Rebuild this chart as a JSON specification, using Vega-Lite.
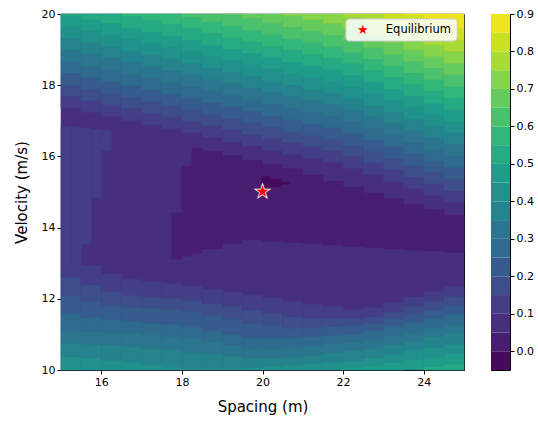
{
  "$schema": "https://vega.github.io/schema/vega-lite/v6.json",
  "background": "white",
  "padding": {"left": 13, "top": 7, "right": 5, "bottom": 5},
  "config": {
    "view": {"stroke": "black", "strokeWidth": 1},
    "axis": {"labelFont": "DejaVu Sans", "titleFont": "DejaVu Sans", "labelFontSize": 11, "titleFontSize": 15, "titleFontWeight": "normal", "labelColor": "black", "titleColor": "black", "tickColor": "black", "domainColor": "black", "tickSize": 4, "grid": false, "labelPadding": 2, "titlePadding": 12}
  },
  "datasets": {
    "base": [{"c":2,"x":15,"x2":25,"lo":10,"hi":20}],
    "cells": [
      {"c":3,"x":15,"x2":15.5,"lo":17.36,"hi":17.69},{"c":4,"x":15,"x2":15.5,"lo":17.69,"hi":18.01},{"c":5,"x":15,"x2":15.5,"lo":18.01,"hi":18.34},{"c":6,"x":15,"x2":15.5,"lo":18.34,"hi":18.66},{"c":7,"x":15,"x2":15.5,"lo":18.66,"hi":18.99},{"c":8,"x":15,"x2":15.5,"lo":18.99,"hi":19.31},{"c":9,"x":15,"x2":15.5,"lo":19.31,"hi":19.64},{"c":10,"x":15,"x2":15.5,"lo":19.64,"hi":19.96},{"c":11,"x":15,"x2":15.5,"lo":19.96,"hi":20.29},
      {"c":3,"x":15.5,"x2":16,"lo":17.24,"hi":17.57},{"c":4,"x":15.5,"x2":16,"lo":17.57,"hi":17.89},{"c":5,"x":15.5,"x2":16,"lo":17.89,"hi":18.22},{"c":6,"x":15.5,"x2":16,"lo":18.22,"hi":18.54},{"c":7,"x":15.5,"x2":16,"lo":18.54,"hi":18.87},{"c":8,"x":15.5,"x2":16,"lo":18.87,"hi":19.19},{"c":9,"x":15.5,"x2":16,"lo":19.19,"hi":19.52},{"c":10,"x":15.5,"x2":16,"lo":19.52,"hi":19.84},{"c":11,"x":15.5,"x2":16,"lo":19.84,"hi":20.17},
      {"c":3,"x":16,"x2":16.5,"lo":17.13,"hi":17.46},{"c":4,"x":16,"x2":16.5,"lo":17.46,"hi":17.78},{"c":5,"x":16,"x2":16.5,"lo":17.78,"hi":18.11},{"c":6,"x":16,"x2":16.5,"lo":18.11,"hi":18.43},{"c":7,"x":16,"x2":16.5,"lo":18.43,"hi":18.76},{"c":8,"x":16,"x2":16.5,"lo":18.76,"hi":19.08},{"c":9,"x":16,"x2":16.5,"lo":19.08,"hi":19.41},{"c":10,"x":16,"x2":16.5,"lo":19.41,"hi":19.73},{"c":11,"x":16,"x2":16.5,"lo":19.73,"hi":20.06},
      {"c":3,"x":16.5,"x2":17,"lo":17.01,"hi":17.34},{"c":4,"x":16.5,"x2":17,"lo":17.34,"hi":17.66},{"c":5,"x":16.5,"x2":17,"lo":17.66,"hi":17.99},{"c":6,"x":16.5,"x2":17,"lo":17.99,"hi":18.31},{"c":7,"x":16.5,"x2":17,"lo":18.31,"hi":18.64},{"c":8,"x":16.5,"x2":17,"lo":18.64,"hi":18.96},{"c":9,"x":16.5,"x2":17,"lo":18.96,"hi":19.29},{"c":10,"x":16.5,"x2":17,"lo":19.29,"hi":19.61},{"c":11,"x":16.5,"x2":17,"lo":19.61,"hi":19.94},{"c":12,"x":16.5,"x2":17,"lo":19.94,"hi":20.26},
      {"c":3,"x":17,"x2":17.5,"lo":16.89,"hi":17.22},{"c":4,"x":17,"x2":17.5,"lo":17.22,"hi":17.54},{"c":5,"x":17,"x2":17.5,"lo":17.54,"hi":17.87},{"c":6,"x":17,"x2":17.5,"lo":17.87,"hi":18.19},{"c":7,"x":17,"x2":17.5,"lo":18.19,"hi":18.52},{"c":8,"x":17,"x2":17.5,"lo":18.52,"hi":18.84},{"c":9,"x":17,"x2":17.5,"lo":18.84,"hi":19.17},{"c":10,"x":17,"x2":17.5,"lo":19.17,"hi":19.49},{"c":11,"x":17,"x2":17.5,"lo":19.49,"hi":19.82},{"c":12,"x":17,"x2":17.5,"lo":19.82,"hi":20.14},
      {"c":3,"x":17.5,"x2":18,"lo":16.78,"hi":17.11},{"c":4,"x":17.5,"x2":18,"lo":17.11,"hi":17.43},{"c":5,"x":17.5,"x2":18,"lo":17.43,"hi":17.76},{"c":6,"x":17.5,"x2":18,"lo":17.76,"hi":18.08},{"c":7,"x":17.5,"x2":18,"lo":18.08,"hi":18.41},{"c":8,"x":17.5,"x2":18,"lo":18.41,"hi":18.73},{"c":9,"x":17.5,"x2":18,"lo":18.73,"hi":19.06},{"c":10,"x":17.5,"x2":18,"lo":19.06,"hi":19.38},{"c":11,"x":17.5,"x2":18,"lo":19.38,"hi":19.71},{"c":12,"x":17.5,"x2":18,"lo":19.71,"hi":20.03},
      {"c":3,"x":18,"x2":18.5,"lo":16.66,"hi":16.99},{"c":4,"x":18,"x2":18.5,"lo":16.99,"hi":17.31},{"c":5,"x":18,"x2":18.5,"lo":17.31,"hi":17.64},{"c":6,"x":18,"x2":18.5,"lo":17.64,"hi":17.96},{"c":7,"x":18,"x2":18.5,"lo":17.96,"hi":18.29},{"c":8,"x":18,"x2":18.5,"lo":18.29,"hi":18.61},{"c":9,"x":18,"x2":18.5,"lo":18.61,"hi":18.94},{"c":10,"x":18,"x2":18.5,"lo":18.94,"hi":19.26},{"c":11,"x":18,"x2":18.5,"lo":19.26,"hi":19.59},{"c":12,"x":18,"x2":18.5,"lo":19.59,"hi":19.91},{"c":13,"x":18,"x2":18.5,"lo":19.91,"hi":20.24},
      {"c":3,"x":18.5,"x2":19,"lo":16.53,"hi":16.86},{"c":4,"x":18.5,"x2":19,"lo":16.86,"hi":17.18},{"c":5,"x":18.5,"x2":19,"lo":17.18,"hi":17.51},{"c":6,"x":18.5,"x2":19,"lo":17.51,"hi":17.83},{"c":7,"x":18.5,"x2":19,"lo":17.83,"hi":18.16},{"c":8,"x":18.5,"x2":19,"lo":18.16,"hi":18.48},{"c":9,"x":18.5,"x2":19,"lo":18.48,"hi":18.81},{"c":10,"x":18.5,"x2":19,"lo":18.81,"hi":19.13},{"c":11,"x":18.5,"x2":19,"lo":19.13,"hi":19.46},{"c":12,"x":18.5,"x2":19,"lo":19.46,"hi":19.78},{"c":13,"x":18.5,"x2":19,"lo":19.78,"hi":20.11},
      {"c":3,"x":19,"x2":19.5,"lo":16.41,"hi":16.74},{"c":4,"x":19,"x2":19.5,"lo":16.74,"hi":17.06},{"c":5,"x":19,"x2":19.5,"lo":17.06,"hi":17.39},{"c":6,"x":19,"x2":19.5,"lo":17.39,"hi":17.71},{"c":7,"x":19,"x2":19.5,"lo":17.71,"hi":18.04},{"c":8,"x":19,"x2":19.5,"lo":18.04,"hi":18.36},{"c":9,"x":19,"x2":19.5,"lo":18.36,"hi":18.69},{"c":10,"x":19,"x2":19.5,"lo":18.69,"hi":19.01},{"c":11,"x":19,"x2":19.5,"lo":19.01,"hi":19.34},{"c":12,"x":19,"x2":19.5,"lo":19.34,"hi":19.66},{"c":13,"x":19,"x2":19.5,"lo":19.66,"hi":19.99},{"c":14,"x":19,"x2":19.5,"lo":19.99,"hi":20.31},
      {"c":3,"x":19.5,"x2":20,"lo":16.29,"hi":16.62},{"c":4,"x":19.5,"x2":20,"lo":16.62,"hi":16.94},{"c":5,"x":19.5,"x2":20,"lo":16.94,"hi":17.27},{"c":6,"x":19.5,"x2":20,"lo":17.27,"hi":17.59},{"c":7,"x":19.5,"x2":20,"lo":17.59,"hi":17.92},{"c":8,"x":19.5,"x2":20,"lo":17.92,"hi":18.24},{"c":9,"x":19.5,"x2":20,"lo":18.24,"hi":18.57},{"c":10,"x":19.5,"x2":20,"lo":18.57,"hi":18.89},{"c":11,"x":19.5,"x2":20,"lo":18.89,"hi":19.22},{"c":12,"x":19.5,"x2":20,"lo":19.22,"hi":19.54},{"c":13,"x":19.5,"x2":20,"lo":19.54,"hi":19.87},{"c":14,"x":19.5,"x2":20,"lo":19.87,"hi":20.19},
      {"c":3,"x":20,"x2":20.5,"lo":16.17,"hi":16.5},{"c":4,"x":20,"x2":20.5,"lo":16.5,"hi":16.82},{"c":5,"x":20,"x2":20.5,"lo":16.82,"hi":17.15},{"c":6,"x":20,"x2":20.5,"lo":17.15,"hi":17.47},{"c":7,"x":20,"x2":20.5,"lo":17.47,"hi":17.8},{"c":8,"x":20,"x2":20.5,"lo":17.8,"hi":18.12},{"c":9,"x":20,"x2":20.5,"lo":18.12,"hi":18.45},{"c":10,"x":20,"x2":20.5,"lo":18.45,"hi":18.77},{"c":11,"x":20,"x2":20.5,"lo":18.77,"hi":19.1},{"c":12,"x":20,"x2":20.5,"lo":19.1,"hi":19.42},{"c":13,"x":20,"x2":20.5,"lo":19.42,"hi":19.75},{"c":14,"x":20,"x2":20.5,"lo":19.75,"hi":20.07},
      {"c":3,"x":20.5,"x2":21,"lo":16.05,"hi":16.38},{"c":4,"x":20.5,"x2":21,"lo":16.38,"hi":16.7},{"c":5,"x":20.5,"x2":21,"lo":16.7,"hi":17.03},{"c":6,"x":20.5,"x2":21,"lo":17.03,"hi":17.35},{"c":7,"x":20.5,"x2":21,"lo":17.35,"hi":17.68},{"c":8,"x":20.5,"x2":21,"lo":17.68,"hi":18},{"c":9,"x":20.5,"x2":21,"lo":18,"hi":18.33},{"c":10,"x":20.5,"x2":21,"lo":18.33,"hi":18.65},{"c":11,"x":20.5,"x2":21,"lo":18.65,"hi":18.98},{"c":12,"x":20.5,"x2":21,"lo":18.98,"hi":19.3},{"c":13,"x":20.5,"x2":21,"lo":19.3,"hi":19.63},{"c":14,"x":20.5,"x2":21,"lo":19.63,"hi":19.95},{"c":15,"x":20.5,"x2":21,"lo":19.95,"hi":20.28},
      {"c":3,"x":21,"x2":21.5,"lo":15.94,"hi":16.27},{"c":4,"x":21,"x2":21.5,"lo":16.27,"hi":16.59},{"c":5,"x":21,"x2":21.5,"lo":16.59,"hi":16.92},{"c":6,"x":21,"x2":21.5,"lo":16.92,"hi":17.24},{"c":7,"x":21,"x2":21.5,"lo":17.24,"hi":17.57},{"c":8,"x":21,"x2":21.5,"lo":17.57,"hi":17.89},{"c":9,"x":21,"x2":21.5,"lo":17.89,"hi":18.22},{"c":10,"x":21,"x2":21.5,"lo":18.22,"hi":18.54},{"c":11,"x":21,"x2":21.5,"lo":18.54,"hi":18.87},{"c":12,"x":21,"x2":21.5,"lo":18.87,"hi":19.19},{"c":13,"x":21,"x2":21.5,"lo":19.19,"hi":19.52},{"c":14,"x":21,"x2":21.5,"lo":19.52,"hi":19.84},{"c":15,"x":21,"x2":21.5,"lo":19.84,"hi":20.17},
      {"c":3,"x":21.5,"x2":22,"lo":15.83,"hi":16.16},{"c":4,"x":21.5,"x2":22,"lo":16.16,"hi":16.48},{"c":5,"x":21.5,"x2":22,"lo":16.48,"hi":16.81},{"c":6,"x":21.5,"x2":22,"lo":16.81,"hi":17.13},{"c":7,"x":21.5,"x2":22,"lo":17.13,"hi":17.46},{"c":8,"x":21.5,"x2":22,"lo":17.46,"hi":17.78},{"c":9,"x":21.5,"x2":22,"lo":17.78,"hi":18.11},{"c":10,"x":21.5,"x2":22,"lo":18.11,"hi":18.43},{"c":11,"x":21.5,"x2":22,"lo":18.43,"hi":18.76},{"c":12,"x":21.5,"x2":22,"lo":18.76,"hi":19.08},{"c":13,"x":21.5,"x2":22,"lo":19.08,"hi":19.41},{"c":14,"x":21.5,"x2":22,"lo":19.41,"hi":19.73},{"c":15,"x":21.5,"x2":22,"lo":19.73,"hi":20.06},
      {"c":3,"x":22,"x2":22.5,"lo":15.67,"hi":16},{"c":4,"x":22,"x2":22.5,"lo":16,"hi":16.32},{"c":5,"x":22,"x2":22.5,"lo":16.32,"hi":16.65},{"c":6,"x":22,"x2":22.5,"lo":16.65,"hi":16.97},{"c":7,"x":22,"x2":22.5,"lo":16.97,"hi":17.3},{"c":8,"x":22,"x2":22.5,"lo":17.3,"hi":17.62},{"c":9,"x":22,"x2":22.5,"lo":17.62,"hi":17.95},{"c":10,"x":22,"x2":22.5,"lo":17.95,"hi":18.27},{"c":11,"x":22,"x2":22.5,"lo":18.27,"hi":18.6},{"c":12,"x":22,"x2":22.5,"lo":18.6,"hi":18.92},{"c":13,"x":22,"x2":22.5,"lo":18.92,"hi":19.25},{"c":14,"x":22,"x2":22.5,"lo":19.25,"hi":19.57},{"c":15,"x":22,"x2":22.5,"lo":19.57,"hi":19.9},{"c":16,"x":22,"x2":22.5,"lo":19.9,"hi":20.22},
      {"c":3,"x":22.5,"x2":23,"lo":15.48,"hi":15.81},{"c":4,"x":22.5,"x2":23,"lo":15.81,"hi":16.13},{"c":5,"x":22.5,"x2":23,"lo":16.13,"hi":16.46},{"c":6,"x":22.5,"x2":23,"lo":16.46,"hi":16.78},{"c":7,"x":22.5,"x2":23,"lo":16.78,"hi":17.11},{"c":8,"x":22.5,"x2":23,"lo":17.11,"hi":17.43},{"c":9,"x":22.5,"x2":23,"lo":17.43,"hi":17.76},{"c":10,"x":22.5,"x2":23,"lo":17.76,"hi":18.08},{"c":11,"x":22.5,"x2":23,"lo":18.08,"hi":18.41},{"c":12,"x":22.5,"x2":23,"lo":18.41,"hi":18.73},{"c":13,"x":22.5,"x2":23,"lo":18.73,"hi":19.06},{"c":14,"x":22.5,"x2":23,"lo":19.06,"hi":19.38},{"c":15,"x":22.5,"x2":23,"lo":19.38,"hi":19.71},{"c":16,"x":22.5,"x2":23,"lo":19.71,"hi":20.03},
      {"c":3,"x":23,"x2":23.5,"lo":15.29,"hi":15.62},{"c":4,"x":23,"x2":23.5,"lo":15.62,"hi":15.94},{"c":5,"x":23,"x2":23.5,"lo":15.94,"hi":16.27},{"c":6,"x":23,"x2":23.5,"lo":16.27,"hi":16.59},{"c":7,"x":23,"x2":23.5,"lo":16.59,"hi":16.92},{"c":8,"x":23,"x2":23.5,"lo":16.92,"hi":17.24},{"c":9,"x":23,"x2":23.5,"lo":17.24,"hi":17.57},{"c":10,"x":23,"x2":23.5,"lo":17.57,"hi":17.89},{"c":11,"x":23,"x2":23.5,"lo":17.89,"hi":18.22},{"c":12,"x":23,"x2":23.5,"lo":18.22,"hi":18.54},{"c":13,"x":23,"x2":23.5,"lo":18.54,"hi":18.87},{"c":14,"x":23,"x2":23.5,"lo":18.87,"hi":19.19},{"c":15,"x":23,"x2":23.5,"lo":19.19,"hi":19.52},{"c":16,"x":23,"x2":23.5,"lo":19.52,"hi":19.84},{"c":17,"x":23,"x2":23.5,"lo":19.84,"hi":20.17},
      {"c":3,"x":23.5,"x2":24,"lo":15.09,"hi":15.42},{"c":4,"x":23.5,"x2":24,"lo":15.42,"hi":15.74},{"c":5,"x":23.5,"x2":24,"lo":15.74,"hi":16.07},{"c":6,"x":23.5,"x2":24,"lo":16.07,"hi":16.39},{"c":7,"x":23.5,"x2":24,"lo":16.39,"hi":16.72},{"c":8,"x":23.5,"x2":24,"lo":16.72,"hi":17.04},{"c":9,"x":23.5,"x2":24,"lo":17.04,"hi":17.37},{"c":10,"x":23.5,"x2":24,"lo":17.37,"hi":17.69},{"c":11,"x":23.5,"x2":24,"lo":17.69,"hi":18.02},{"c":12,"x":23.5,"x2":24,"lo":18.02,"hi":18.34},{"c":13,"x":23.5,"x2":24,"lo":18.34,"hi":18.67},{"c":14,"x":23.5,"x2":24,"lo":18.67,"hi":18.99},{"c":15,"x":23.5,"x2":24,"lo":18.99,"hi":19.32},{"c":16,"x":23.5,"x2":24,"lo":19.32,"hi":19.64},{"c":17,"x":23.5,"x2":24,"lo":19.64,"hi":19.97},{"c":18,"x":23.5,"x2":24,"lo":19.97,"hi":20.29},
      {"c":3,"x":24,"x2":24.5,"lo":14.9,"hi":15.23},{"c":4,"x":24,"x2":24.5,"lo":15.23,"hi":15.55},{"c":5,"x":24,"x2":24.5,"lo":15.55,"hi":15.88},{"c":6,"x":24,"x2":24.5,"lo":15.88,"hi":16.2},{"c":7,"x":24,"x2":24.5,"lo":16.2,"hi":16.53},{"c":8,"x":24,"x2":24.5,"lo":16.53,"hi":16.85},{"c":9,"x":24,"x2":24.5,"lo":16.85,"hi":17.18},{"c":10,"x":24,"x2":24.5,"lo":17.18,"hi":17.5},{"c":11,"x":24,"x2":24.5,"lo":17.5,"hi":17.83},{"c":12,"x":24,"x2":24.5,"lo":17.83,"hi":18.15},{"c":13,"x":24,"x2":24.5,"lo":18.15,"hi":18.48},{"c":14,"x":24,"x2":24.5,"lo":18.48,"hi":18.8},{"c":15,"x":24,"x2":24.5,"lo":18.8,"hi":19.13},{"c":16,"x":24,"x2":24.5,"lo":19.13,"hi":19.45},{"c":17,"x":24,"x2":24.5,"lo":19.45,"hi":19.78},{"c":18,"x":24,"x2":24.5,"lo":19.78,"hi":20.1},
      {"c":3,"x":24.5,"x2":25,"lo":14.71,"hi":15.04},{"c":4,"x":24.5,"x2":25,"lo":15.04,"hi":15.36},{"c":5,"x":24.5,"x2":25,"lo":15.36,"hi":15.69},{"c":6,"x":24.5,"x2":25,"lo":15.69,"hi":16.01},{"c":7,"x":24.5,"x2":25,"lo":16.01,"hi":16.34},{"c":8,"x":24.5,"x2":25,"lo":16.34,"hi":16.66},{"c":9,"x":24.5,"x2":25,"lo":16.66,"hi":16.99},{"c":10,"x":24.5,"x2":25,"lo":16.99,"hi":17.31},{"c":11,"x":24.5,"x2":25,"lo":17.31,"hi":17.64},{"c":12,"x":24.5,"x2":25,"lo":17.64,"hi":17.96},{"c":13,"x":24.5,"x2":25,"lo":17.96,"hi":18.29},{"c":14,"x":24.5,"x2":25,"lo":18.29,"hi":18.61},{"c":15,"x":24.5,"x2":25,"lo":18.61,"hi":18.94},{"c":16,"x":24.5,"x2":25,"lo":18.94,"hi":19.26},{"c":17,"x":24.5,"x2":25,"lo":19.26,"hi":19.59},{"c":18,"x":24.5,"x2":25,"lo":19.59,"hi":20},
      {"c":3,"x":15,"x2":15.5,"lo":12.6,"hi":13.03},{"c":4,"x":15,"x2":15.5,"lo":12.08,"hi":12.6},{"c":5,"x":15,"x2":15.5,"lo":11.57,"hi":12.08},{"c":6,"x":15,"x2":15.5,"lo":11.09,"hi":11.57},{"c":7,"x":15,"x2":15.5,"lo":10.75,"hi":11.09},{"c":8,"x":15,"x2":15.5,"lo":10.37,"hi":10.75},{"c":9,"x":15,"x2":15.5,"lo":10.03,"hi":10.37},{"c":10,"x":15,"x2":15.5,"lo":9.69,"hi":10.03},
      {"c":3,"x":15.5,"x2":16,"lo":12.39,"hi":12.93},{"c":4,"x":15.5,"x2":16,"lo":11.92,"hi":12.39},{"c":5,"x":15.5,"x2":16,"lo":11.46,"hi":11.92},{"c":6,"x":15.5,"x2":16,"lo":11.07,"hi":11.46},{"c":7,"x":15.5,"x2":16,"lo":10.72,"hi":11.07},{"c":8,"x":15.5,"x2":16,"lo":10.32,"hi":10.72},{"c":9,"x":15.5,"x2":16,"lo":9.98,"hi":10.32},
      {"c":3,"x":16,"x2":16.5,"lo":12.2,"hi":12.69},{"c":4,"x":16,"x2":16.5,"lo":11.81,"hi":12.2},{"c":5,"x":16,"x2":16.5,"lo":11.41,"hi":11.81},{"c":6,"x":16,"x2":16.5,"lo":11.06,"hi":11.41},{"c":7,"x":16,"x2":16.5,"lo":10.69,"hi":11.06},{"c":8,"x":16,"x2":16.5,"lo":10.27,"hi":10.69},{"c":9,"x":16,"x2":16.5,"lo":9.94,"hi":10.27},
      {"c":3,"x":16.5,"x2":17,"lo":12.09,"hi":12.54},{"c":4,"x":16.5,"x2":17,"lo":11.75,"hi":12.09},{"c":5,"x":16.5,"x2":17,"lo":11.36,"hi":11.75},{"c":6,"x":16.5,"x2":17,"lo":11.03,"hi":11.36},{"c":7,"x":16.5,"x2":17,"lo":10.65,"hi":11.03},{"c":8,"x":16.5,"x2":17,"lo":10.22,"hi":10.65},{"c":9,"x":16.5,"x2":17,"lo":9.89,"hi":10.22},
      {"c":3,"x":17,"x2":17.5,"lo":12.05,"hi":12.48},{"c":4,"x":17,"x2":17.5,"lo":11.73,"hi":12.05},{"c":5,"x":17,"x2":17.5,"lo":11.31,"hi":11.73},{"c":6,"x":17,"x2":17.5,"lo":10.98,"hi":11.31},{"c":7,"x":17,"x2":17.5,"lo":10.6,"hi":10.98},{"c":8,"x":17,"x2":17.5,"lo":10.15,"hi":10.6},{"c":9,"x":17,"x2":17.5,"lo":9.84,"hi":10.15},
      {"c":3,"x":17.5,"x2":18,"lo":12.01,"hi":12.42},{"c":4,"x":17.5,"x2":18,"lo":11.7,"hi":12.01},{"c":5,"x":17.5,"x2":18,"lo":11.27,"hi":11.7},{"c":6,"x":17.5,"x2":18,"lo":10.94,"hi":11.27},{"c":7,"x":17.5,"x2":18,"lo":10.56,"hi":10.94},{"c":8,"x":17.5,"x2":18,"lo":10.08,"hi":10.56},{"c":9,"x":17.5,"x2":18,"lo":9.78,"hi":10.08},
      {"c":3,"x":18,"x2":18.5,"lo":11.95,"hi":12.36},{"c":4,"x":18,"x2":18.5,"lo":11.65,"hi":11.95},{"c":5,"x":18,"x2":18.5,"lo":11.2,"hi":11.65},{"c":6,"x":18,"x2":18.5,"lo":10.87,"hi":11.2},{"c":7,"x":18,"x2":18.5,"lo":10.5,"hi":10.87},{"c":8,"x":18,"x2":18.5,"lo":10.04,"hi":10.5},{"c":9,"x":18,"x2":18.5,"lo":9.76,"hi":10.04},
      {"c":3,"x":18.5,"x2":19,"lo":11.86,"hi":12.27},{"c":4,"x":18.5,"x2":19,"lo":11.53,"hi":11.86},{"c":5,"x":18.5,"x2":19,"lo":11.09,"hi":11.53},{"c":6,"x":18.5,"x2":19,"lo":10.78,"hi":11.09},{"c":7,"x":18.5,"x2":19,"lo":10.44,"hi":10.78},{"c":8,"x":18.5,"x2":19,"lo":10.05,"hi":10.44},{"c":9,"x":18.5,"x2":19,"lo":9.77,"hi":10.05},
      {"c":3,"x":19,"x2":19.5,"lo":11.77,"hi":12.18},{"c":4,"x":19,"x2":19.5,"lo":11.42,"hi":11.77},{"c":5,"x":19,"x2":19.5,"lo":10.99,"hi":11.42},{"c":6,"x":19,"x2":19.5,"lo":10.69,"hi":10.99},{"c":7,"x":19,"x2":19.5,"lo":10.38,"hi":10.69},{"c":8,"x":19,"x2":19.5,"lo":10.05,"hi":10.38},{"c":9,"x":19,"x2":19.5,"lo":9.78,"hi":10.05},
      {"c":3,"x":19.5,"x2":20,"lo":11.68,"hi":12.1},{"c":4,"x":19.5,"x2":20,"lo":11.31,"hi":11.68},{"c":5,"x":19.5,"x2":20,"lo":10.88,"hi":11.31},{"c":6,"x":19.5,"x2":20,"lo":10.6,"hi":10.88},{"c":7,"x":19.5,"x2":20,"lo":10.31,"hi":10.6},{"c":8,"x":19.5,"x2":20,"lo":10.06,"hi":10.31},{"c":9,"x":19.5,"x2":20,"lo":9.8,"hi":10.06},
      {"c":3,"x":20,"x2":20.5,"lo":11.58,"hi":12.02},{"c":4,"x":20,"x2":20.5,"lo":11.24,"hi":11.58},{"c":5,"x":20,"x2":20.5,"lo":10.88,"hi":11.24},{"c":6,"x":20,"x2":20.5,"lo":10.61,"hi":10.88},{"c":7,"x":20,"x2":20.5,"lo":10.33,"hi":10.61},{"c":8,"x":20,"x2":20.5,"lo":10.09,"hi":10.33},{"c":9,"x":20,"x2":20.5,"lo":9.83,"hi":10.09},
      {"c":3,"x":20.5,"x2":21,"lo":11.49,"hi":11.93},{"c":4,"x":20.5,"x2":21,"lo":11.17,"hi":11.49},{"c":5,"x":20.5,"x2":21,"lo":10.89,"hi":11.17},{"c":6,"x":20.5,"x2":21,"lo":10.64,"hi":10.89},{"c":7,"x":20.5,"x2":21,"lo":10.36,"hi":10.64},{"c":8,"x":20.5,"x2":21,"lo":10.13,"hi":10.36},{"c":9,"x":20.5,"x2":21,"lo":9.87,"hi":10.13},
      {"c":3,"x":21,"x2":21.5,"lo":11.45,"hi":11.85},{"c":4,"x":21,"x2":21.5,"lo":11.18,"hi":11.45},{"c":5,"x":21,"x2":21.5,"lo":10.93,"hi":11.18},{"c":6,"x":21,"x2":21.5,"lo":10.68,"hi":10.93},{"c":7,"x":21,"x2":21.5,"lo":10.41,"hi":10.68},{"c":8,"x":21,"x2":21.5,"lo":10.17,"hi":10.41},{"c":9,"x":21,"x2":21.5,"lo":9.94,"hi":10.17},
      {"c":3,"x":21.5,"x2":22,"lo":11.44,"hi":11.77},{"c":4,"x":21.5,"x2":22,"lo":11.21,"hi":11.44},{"c":5,"x":21.5,"x2":22,"lo":10.97,"hi":11.21},{"c":6,"x":21.5,"x2":22,"lo":10.73,"hi":10.97},{"c":7,"x":21.5,"x2":22,"lo":10.48,"hi":10.73},{"c":8,"x":21.5,"x2":22,"lo":10.21,"hi":10.48},{"c":9,"x":21.5,"x2":22,"lo":10,"hi":10.21},
      {"c":3,"x":22,"x2":22.5,"lo":11.43,"hi":11.7},{"c":4,"x":22,"x2":22.5,"lo":11.24,"hi":11.43},{"c":5,"x":22,"x2":22.5,"lo":11.01,"hi":11.24},{"c":6,"x":22,"x2":22.5,"lo":10.78,"hi":11.01},{"c":7,"x":22,"x2":22.5,"lo":10.54,"hi":10.78},{"c":8,"x":22,"x2":22.5,"lo":10.26,"hi":10.54},{"c":9,"x":22,"x2":22.5,"lo":10.07,"hi":10.26},{"c":10,"x":22,"x2":22.5,"lo":9.81,"hi":10.07},
      {"c":3,"x":22.5,"x2":23,"lo":11.49,"hi":11.75},{"c":4,"x":22.5,"x2":23,"lo":11.3,"hi":11.49},{"c":5,"x":22.5,"x2":23,"lo":11.09,"hi":11.3},{"c":6,"x":22.5,"x2":23,"lo":10.84,"hi":11.09},{"c":7,"x":22.5,"x2":23,"lo":10.6,"hi":10.84},{"c":8,"x":22.5,"x2":23,"lo":10.33,"hi":10.6},{"c":9,"x":22.5,"x2":23,"lo":10.11,"hi":10.33},{"c":10,"x":22.5,"x2":23,"lo":9.86,"hi":10.11},
      {"c":3,"x":23,"x2":23.5,"lo":11.63,"hi":11.9},{"c":4,"x":23,"x2":23.5,"lo":11.42,"hi":11.63},{"c":5,"x":23,"x2":23.5,"lo":11.2,"hi":11.42},{"c":6,"x":23,"x2":23.5,"lo":10.95,"hi":11.2},{"c":7,"x":23,"x2":23.5,"lo":10.71,"hi":10.95},{"c":8,"x":23,"x2":23.5,"lo":10.43,"hi":10.71},{"c":9,"x":23,"x2":23.5,"lo":10.2,"hi":10.43},{"c":10,"x":23,"x2":23.5,"lo":9.94,"hi":10.2},
      {"c":3,"x":23.5,"x2":24,"lo":11.77,"hi":12.05},{"c":4,"x":23.5,"x2":24,"lo":11.54,"hi":11.77},{"c":5,"x":23.5,"x2":24,"lo":11.32,"hi":11.54},{"c":6,"x":23.5,"x2":24,"lo":11.06,"hi":11.32},{"c":7,"x":23.5,"x2":24,"lo":10.82,"hi":11.06},{"c":8,"x":23.5,"x2":24,"lo":10.53,"hi":10.82},{"c":9,"x":23.5,"x2":24,"lo":10.28,"hi":10.53},{"c":10,"x":23.5,"x2":24,"lo":10.01,"hi":10.28},
      {"c":3,"x":24,"x2":24.5,"lo":11.92,"hi":12.2},{"c":4,"x":24,"x2":24.5,"lo":11.67,"hi":11.92},{"c":5,"x":24,"x2":24.5,"lo":11.44,"hi":11.67},{"c":6,"x":24,"x2":24.5,"lo":11.17,"hi":11.44},{"c":7,"x":24,"x2":24.5,"lo":10.93,"hi":11.17},{"c":8,"x":24,"x2":24.5,"lo":10.62,"hi":10.93},{"c":9,"x":24,"x2":24.5,"lo":10.36,"hi":10.62},{"c":10,"x":24,"x2":24.5,"lo":10.09,"hi":10.36},{"c":11,"x":24,"x2":24.5,"lo":10,"hi":10.09},
      {"c":3,"x":24.5,"x2":25,"lo":12.06,"hi":12.35},{"c":4,"x":24.5,"x2":25,"lo":11.79,"hi":12.06},{"c":5,"x":24.5,"x2":25,"lo":11.55,"hi":11.79},{"c":6,"x":24.5,"x2":25,"lo":11.28,"hi":11.55},{"c":7,"x":24.5,"x2":25,"lo":11.04,"hi":11.28},{"c":8,"x":24.5,"x2":25,"lo":10.72,"hi":11.04},{"c":9,"x":24.5,"x2":25,"lo":10.45,"hi":10.72},{"c":10,"x":24.5,"x2":25,"lo":10.16,"hi":10.45},{"c":11,"x":24.5,"x2":25,"lo":10,"hi":10.16},
      {"c":3,"x":15,"x2":15.25,"lo":13.03,"hi":16.85},{"c":3,"x":15.25,"x2":15.5,"lo":13.03,"hi":16.82},{"c":3,"x":15.5,"x2":15.75,"lo":13.53,"hi":16.79},{"c":3,"x":15.75,"x2":16,"lo":14.84,"hi":16.76},{"c":3,"x":16,"x2":16.25,"lo":16.16,"hi":16.72},
      {"c":1,"x":17.75,"x2":18,"lo":13.12,"hi":14.41},{"c":1,"x":18,"x2":18.25,"lo":13.2,"hi":15.72},{"c":1,"x":18.25,"x2":18.5,"lo":13.28,"hi":16.23},{"c":1,"x":18.5,"x2":19,"lo":13.4,"hi":16.14},{"c":1,"x":19,"x2":19.5,"lo":13.56,"hi":16.02},{"c":1,"x":19.5,"x2":20,"lo":13.66,"hi":15.89},{"c":1,"x":20,"x2":20.5,"lo":13.62,"hi":15.77},{"c":1,"x":20.5,"x2":21,"lo":13.59,"hi":15.65},{"c":1,"x":21,"x2":21.5,"lo":13.55,"hi":15.48},{"c":1,"x":21.5,"x2":22,"lo":13.51,"hi":15.3},{"c":1,"x":22,"x2":22.5,"lo":13.47,"hi":15.13},{"c":1,"x":22.5,"x2":23,"lo":13.44,"hi":14.97},{"c":1,"x":23,"x2":23.5,"lo":13.4,"hi":14.81},{"c":1,"x":23.5,"x2":24,"lo":13.37,"hi":14.65},{"c":1,"x":24,"x2":24.5,"lo":13.34,"hi":14.5},{"c":1,"x":24.5,"x2":25,"lo":13.31,"hi":14.34}
    ],
    "tri": [
      {"c":0,"x":19.97,"x2":20.2,"lo":15.09,"hi":15.43},{"c":0,"x":20.2,"x2":20.45,"lo":15.15,"hi":15.36},{"c":0,"x":20.45,"x2":20.66,"lo":15.22,"hi":15.28}
    ],
    "cbar": [
      {"c":0,"lo":-0.05,"hi":0},{"c":1,"lo":0,"hi":0.05},{"c":2,"lo":0.05,"hi":0.1},{"c":3,"lo":0.1,"hi":0.15},{"c":4,"lo":0.15,"hi":0.2},{"c":5,"lo":0.2,"hi":0.25},{"c":6,"lo":0.25,"hi":0.3},{"c":7,"lo":0.3,"hi":0.35},{"c":8,"lo":0.35,"hi":0.4},{"c":9,"lo":0.4,"hi":0.45},{"c":10,"lo":0.45,"hi":0.5},{"c":11,"lo":0.5,"hi":0.55},{"c":12,"lo":0.55,"hi":0.6},{"c":13,"lo":0.6,"hi":0.65},{"c":14,"lo":0.65,"hi":0.7},{"c":15,"lo":0.7,"hi":0.75},{"c":16,"lo":0.75,"hi":0.8},{"c":17,"lo":0.8,"hi":0.85},{"c":18,"lo":0.85,"hi":0.9}
    ],
    "eq": [{"x":20,"y":15,"name":"Equilibrium"}]
  },
  "resolve": {"scale": {"x": "independent", "y": "independent"}},
  "spacing": 25,
  "hconcat": [
    {
      "width": 403,
      "height": 356,
      "layer": [
        {
          "data": {"name": "base"},
          "mark": {"type": "rect", "strokeWidth": 0.6},
          "encoding": {
            "x": {"field": "x", "type": "quantitative", "scale": {"domain": [15, 25], "nice": false, "zero": false}, "axis": {"values": [16, 18, 20, 22, 24], "title": "Spacing (m)"}},
            "x2": {"field": "x2"},
            "y": {"field": "lo", "type": "quantitative", "scale": {"domain": [10, 20], "nice": false, "zero": false, "clamp": true}, "axis": {"values": [10, 12, 14, 16, 18, 20], "title": "Velocity (m/s)"}},
            "y2": {"field": "hi"},
            "color": {"field": "c", "type": "ordinal", "legend": null, "scale": {"domain": [0, 1, 2, 3, 4, 5, 6, 7, 8, 9, 10, 11, 12, 13, 14, 15, 16, 17, 18], "range": ["#460a5d", "#481f70", "#472f7d", "#433e85", "#3d4e8a", "#365c8d", "#2f6b8e", "#2b768e", "#25838e", "#21918c", "#1f9d8a", "#25aa83", "#32b67a", "#4ac16d", "#65cb5e", "#85d44a", "#a8db34", "#cae11f", "#ece51b"]}},
            "stroke": {"field": "c", "type": "ordinal", "legend": null, "scale": {"domain": [0, 1, 2, 3, 4, 5, 6, 7, 8, 9, 10, 11, 12, 13, 14, 15, 16, 17, 18], "range": ["#460a5d", "#481f70", "#472f7d", "#433e85", "#3d4e8a", "#365c8d", "#2f6b8e", "#2b768e", "#25838e", "#21918c", "#1f9d8a", "#25aa83", "#32b67a", "#4ac16d", "#65cb5e", "#85d44a", "#a8db34", "#cae11f", "#ece51b"]}}
          }
        },
        {
          "data": {"name": "cells"},
          "mark": {"type": "rect", "strokeWidth": 0.6},
          "encoding": {
            "x": {"field": "x", "type": "quantitative"},
            "x2": {"field": "x2"},
            "y": {"field": "lo", "type": "quantitative"},
            "y2": {"field": "hi"},
            "color": {"field": "c", "type": "ordinal", "legend": null},
            "stroke": {"field": "c", "type": "ordinal", "legend": null}
          }
        },
        {
          "data": {"name": "tri"},
          "mark": {"type": "rect", "strokeWidth": 0.6},
          "encoding": {
            "x": {"field": "x", "type": "quantitative"},
            "x2": {"field": "x2"},
            "y": {"field": "lo", "type": "quantitative"},
            "y2": {"field": "hi"},
            "color": {"field": "c", "type": "ordinal", "legend": null},
            "stroke": {"field": "c", "type": "ordinal", "legend": null}
          }
        },
        {
          "data": {"name": "eq"},
          "mark": {"type": "text", "text": "★", "fontSize": 20, "font": "DejaVu Sans", "align": "center", "baseline": "middle", "fill": "red", "stroke": "white", "strokeWidth": 0.7},
          "encoding": {
            "x": {"field": "x", "type": "quantitative"},
            "y": {"field": "y", "type": "quantitative"}
          }
        },
        {
          "data": {"name": "eq"},
          "mark": {"type": "rect", "fill": "white", "fillOpacity": 0.85, "stroke": "#cccccc", "strokeWidth": 1, "cornerRadius": 3},
          "encoding": {
            "x": {"datum": 22.07, "type": "quantitative"},
            "x2": {"datum": 24.83},
            "y": {"datum": 19.86, "type": "quantitative"},
            "y2": {"datum": 19.24}
          }
        },
        {
          "data": {"name": "eq"},
          "mark": {"type": "text", "text": "★", "fontSize": 13, "font": "DejaVu Sans", "align": "center", "baseline": "middle", "fill": "red"},
          "encoding": {
            "x": {"datum": 22.49, "type": "quantitative"},
            "y": {"datum": 19.55, "type": "quantitative"}
          }
        },
        {
          "data": {"name": "eq"},
          "mark": {"type": "text", "align": "left", "baseline": "middle", "font": "DejaVu Sans", "fontSize": 11.5, "fill": "black"},
          "encoding": {
            "x": {"datum": 23.06, "type": "quantitative"},
            "y": {"datum": 19.55, "type": "quantitative"},
            "text": {"field": "name"}
          }
        }
      ]
    },
    {
      "width": 19,
      "height": 356,
      "data": {"name": "cbar"},
      "mark": {"type": "rect"},
      "encoding": {
        "x": {"datum": 0, "type": "quantitative", "scale": {"domain": [0, 1]}, "axis": null},
        "x2": {"datum": 1},
        "y": {"field": "lo", "type": "quantitative", "scale": {"domain": [-0.05, 0.9], "nice": false, "zero": false}, "axis": {"orient": "right", "title": null, "values": [0, 0.1, 0.2, 0.3, 0.4, 0.5, 0.6, 0.7, 0.8, 0.9], "format": ".1f", "domain": false}},
        "y2": {"field": "hi"},
        "color": {"field": "c", "type": "ordinal", "legend": null}
      }
    }
  ]
}
